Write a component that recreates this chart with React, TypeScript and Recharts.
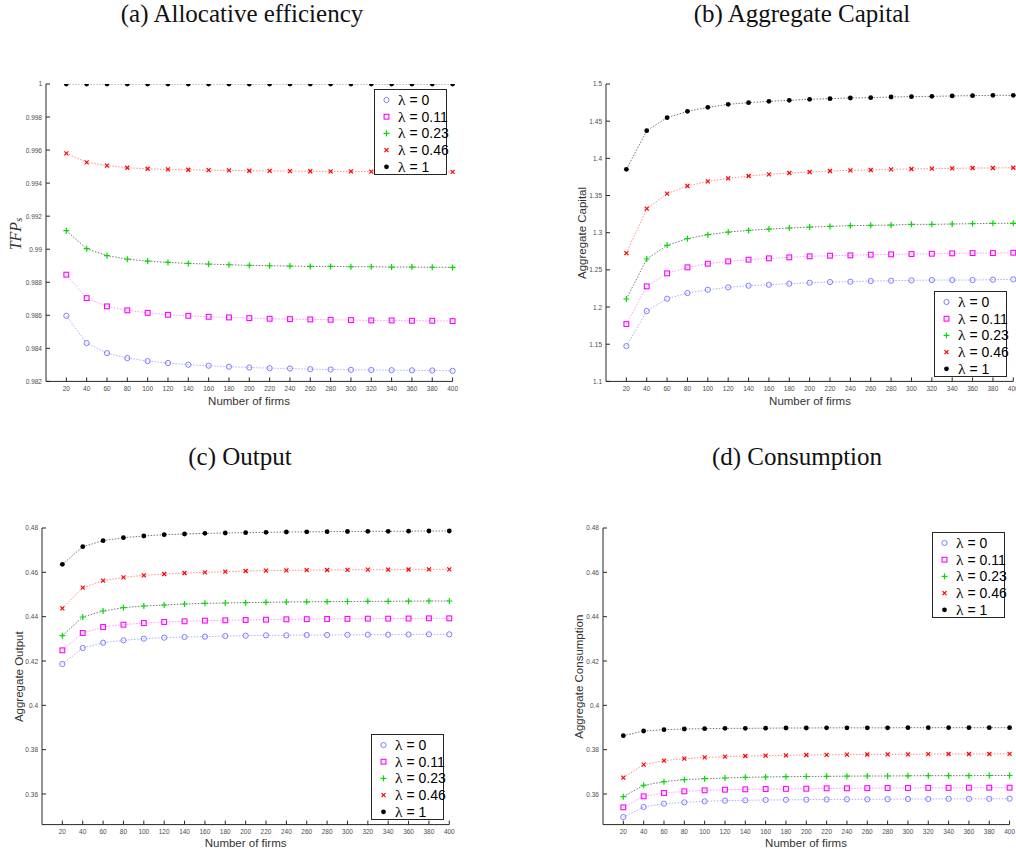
import React from "react";
import { LineChart, Line, XAxis, YAxis, Legend } from "recharts";

// number of firms on the x axis
const firms = [20, 40, 60, 80, 100, 120, 140, 160, 180, 200, 220, 240, 260, 280, 300, 320, 340, 360, 380, 400];
const lambdaLabels = ["0", "0.11", "0.23", "0.46", "1"];

// (a) allocative efficiency, TFP_s
const tfpL0 = [0.98597, 0.98432, 0.98371, 0.98341, 0.98323, 0.98311, 0.98301, 0.98295, 0.98289, 0.98284, 0.9828, 0.98278, 0.98274, 0.98272, 0.9827, 0.98269, 0.98268, 0.98267, 0.98266, 0.98264];
const tfpL011 = [0.98846, 0.98704, 0.98654, 0.9863, 0.98615, 0.98603, 0.98597, 0.98591, 0.98587, 0.98583, 0.98579, 0.98577, 0.98575, 0.98573, 0.98571, 0.98569, 0.98569, 0.98567, 0.98567, 0.98565];
const tfpL023 = [0.99112, 0.99003, 0.98961, 0.9894, 0.98928, 0.9892, 0.98914, 0.9891, 0.98906, 0.98902, 0.989, 0.98898, 0.98896, 0.98896, 0.98894, 0.98894, 0.98892, 0.98892, 0.98891, 0.9889];
const tfpL046 = [0.9958, 0.99526, 0.99506, 0.99493, 0.99487, 0.99483, 0.99481, 0.99479, 0.99477, 0.99475, 0.99474, 0.99473, 0.99472, 0.99471, 0.99471, 0.9947, 0.99469, 0.99469, 0.99469, 0.99468];
const tfpL1 = [1, 1, 1, 1, 1, 1, 1, 1, 1, 1, 1, 1, 1, 1, 1, 1, 1, 1, 1, 1];
const tfpTicks = [0.982, 0.984, 0.986, 0.988, 0.99, 0.992, 0.994, 0.996, 0.998, 1];

// (b) aggregate capital
const capL0 = [1.1475, 1.1946, 1.2112, 1.2188, 1.2233, 1.2265, 1.2287, 1.23, 1.2314, 1.2327, 1.2336, 1.2341, 1.235, 1.2354, 1.2359, 1.2363, 1.2363, 1.2363, 1.2368, 1.2372];
const capL011 = [1.1771, 1.2278, 1.2453, 1.2534, 1.2583, 1.2614, 1.2637, 1.2655, 1.2668, 1.2682, 1.2691, 1.2695, 1.2704, 1.2709, 1.2713, 1.2717, 1.2722, 1.2726, 1.2726, 1.2731];
const capL023 = [1.2108, 1.2646, 1.283, 1.2919, 1.2973, 1.3009, 1.3031, 1.3049, 1.3063, 1.3076, 1.3085, 1.3094, 1.3099, 1.3103, 1.3112, 1.3112, 1.3117, 1.3121, 1.3126, 1.3126];
const capL046 = [1.2726, 1.3323, 1.3525, 1.3628, 1.3691, 1.3731, 1.3762, 1.3785, 1.3803, 1.3816, 1.383, 1.3839, 1.3843, 1.3852, 1.3857, 1.3861, 1.3865, 1.387, 1.387, 1.3874];
const capL1 = [1.3852, 1.4372, 1.4547, 1.4632, 1.4686, 1.4726, 1.4749, 1.4767, 1.478, 1.4794, 1.4803, 1.4812, 1.4816, 1.4825, 1.483, 1.4834, 1.4839, 1.4843, 1.4848, 1.4848];
const capTicks = [1.1, 1.15, 1.2, 1.25, 1.3, 1.35, 1.4, 1.45, 1.5];

// (c) aggregate output
const outL0 = [0.41865, 0.42586, 0.42827, 0.42932, 0.43008, 0.43053, 0.43083, 0.43098, 0.43128, 0.43143, 0.43158, 0.43158, 0.43173, 0.43173, 0.4318, 0.43188, 0.43188, 0.43195, 0.43203, 0.43203];
const outL011 = [0.42481, 0.43263, 0.43534, 0.43639, 0.43714, 0.4376, 0.4379, 0.4382, 0.43835, 0.4385, 0.43865, 0.4388, 0.43887, 0.43895, 0.43902, 0.4391, 0.4391, 0.43917, 0.43925, 0.43925];
const outL023 = [0.43143, 0.43985, 0.44256, 0.44406, 0.44481, 0.44526, 0.44571, 0.44602, 0.44617, 0.44632, 0.44647, 0.44662, 0.4467, 0.44677, 0.44684, 0.44692, 0.44692, 0.447, 0.44707, 0.44707];
const outL046 = [0.44376, 0.45308, 0.45624, 0.45774, 0.45865, 0.45925, 0.4597, 0.46, 0.4603, 0.4606, 0.46075, 0.4609, 0.46098, 0.46105, 0.46113, 0.4612, 0.4612, 0.46128, 0.46135, 0.46135];
const outL1 = [0.46361, 0.47158, 0.47429, 0.47564, 0.47639, 0.47699, 0.47729, 0.47759, 0.47774, 0.47789, 0.47805, 0.4782, 0.47827, 0.47835, 0.47842, 0.4785, 0.4785, 0.47857, 0.47865, 0.47865];

// (d) aggregate consumption
const conL0 = [0.34962, 0.35414, 0.35564, 0.35624, 0.3567, 0.357, 0.35715, 0.3573, 0.35737, 0.35745, 0.35752, 0.3576, 0.3576, 0.35767, 0.35775, 0.35775, 0.35782, 0.35782, 0.35782, 0.3579];
const conL011 = [0.35398, 0.35895, 0.36045, 0.3612, 0.36165, 0.36195, 0.3621, 0.36225, 0.36233, 0.3624, 0.36256, 0.36256, 0.36263, 0.36271, 0.36271, 0.36278, 0.36278, 0.36286, 0.36286, 0.36286];
const conL023 = [0.3588, 0.36391, 0.36556, 0.36647, 0.36692, 0.36722, 0.36752, 0.36767, 0.36782, 0.3679, 0.36797, 0.36805, 0.36812, 0.36812, 0.3682, 0.36827, 0.36827, 0.36827, 0.36835, 0.36835];
const conL046 = [0.36737, 0.37323, 0.37504, 0.37594, 0.37654, 0.37684, 0.37714, 0.37729, 0.37744, 0.37759, 0.37767, 0.37774, 0.37782, 0.37789, 0.37789, 0.37797, 0.37805, 0.37805, 0.37805, 0.37812];
const conL1 = [0.38632, 0.38842, 0.38902, 0.38932, 0.38947, 0.38962, 0.38962, 0.3897, 0.38977, 0.38977, 0.38985, 0.38985, 0.38985, 0.38985, 0.38992, 0.38992, 0.38992, 0.38992, 0.38992, 0.38992];
const smallTicks = [0.36, 0.38, 0.4, 0.42, 0.44, 0.46, 0.48];

const styles = [
  { marker: "circle", color: "#6f6fff", line: "#9a9aff" },
  { marker: "square", color: "#ff00ff", line: "#ff7cff" },
  { marker: "plus", color: "#00dd00", line: "#555555" },
  { marker: "cross", color: "#ff0000", line: "#ff7070" },
  { marker: "dot", color: "#000000", line: "#555555" },
];

const AX = "#262626";
const SANS = "'Liberation Sans', Arial, sans-serif";
const SERIF = "'Liberation Serif', 'Times New Roman', serif";

function Marker({ cx, cy, kind, color }: any) {
  if (cx == null || cy == null) return null;
  if (kind === "circle") return <circle cx={cx} cy={cy} r={2.6} fill="none" stroke={color} strokeWidth={0.9} />;
  if (kind === "square") return <rect x={cx - 2.4} y={cy - 2.4} width={4.8} height={4.8} fill="none" stroke={color} strokeWidth={1.1} />;
  if (kind === "plus")
    return (
      <g stroke={color} strokeWidth={1.2}>
        <line x1={cx - 3} x2={cx + 3} y1={cy} y2={cy} />
        <line x1={cx} x2={cx} y1={cy - 3} y2={cy + 3} />
      </g>
    );
  if (kind === "cross")
    return (
      <g stroke={color} strokeWidth={1.2}>
        <line x1={cx - 2} x2={cx + 2} y1={cy - 2} y2={cy + 2} />
        <line x1={cx - 2} x2={cx + 2} y1={cy + 2} y2={cy - 2} />
      </g>
    );
  return <circle cx={cx} cy={cy} r={2.4} fill={color} />;
}

function YTick({ x, y, payload, fmt }: any) {
  return (
    <g>
      <line x1={x + 4} x2={x + 8} y1={y} y2={y} stroke={AX} />
      <text x={x} y={y} textAnchor="end" dominantBaseline="central" fontSize={6.5} fill="#4d4d4d" fontFamily={SANS}>
        {fmt(payload.value)}
      </text>
    </g>
  );
}

function XTick({ x, y, payload }: any) {
  return (
    <g>
      <line x1={x} x2={x} y1={y - 4} y2={y - 8} stroke={AX} />
      <text x={x} y={y + 3.4} textAnchor="middle" dominantBaseline="central" fontSize={6.5} fill="#4d4d4d" fontFamily={SANS}>
        {payload.value}
      </text>
    </g>
  );
}

function LegendBox() {
  return (
    <div style={{ width: 73, height: 86, border: `1px solid ${AX}`, background: "#fff", boxSizing: "border-box", position: "relative" }}>
      <svg width={71} height={84} style={{ position: "absolute", left: 0, top: 0, overflow: "visible" }}>
        {lambdaLabels.map((lab, i) => {
          const cy = 10 + i * 16.7;
          return (
            <g key={lab}>
              <Marker cx={11.5} cy={cy} kind={styles[i].marker} color={styles[i].color} />
              <text x={23} y={cy + 5} fontSize={14} fill="#000">
                <tspan fontFamily={SERIF} fontSize={15.5}>λ</tspan>
                <tspan fontFamily={SANS}> = {lab}</tspan>
              </text>
            </g>
          );
        })}
      </svg>
    </div>
  );
}

const fmt3 = (v: number) => String(Number(v.toFixed(3)));
const fmt2 = (v: number) => String(Number(v.toFixed(2)));

const panels = [
  { id: "a", series: [tfpL0, tfpL011, tfpL023, tfpL046, tfpL1], domain: [0.982, 1], ticks: tfpTicks, fmt: fmt3, plot: { x0: 45.7, x1: 452.3, y0: 84.3, y1: 381.7 }, legend: { x: 374, y: 89.3 } },
  { id: "b", series: [capL0, capL011, capL023, capL046, capL1], domain: [1.1, 1.5], ticks: capTicks, fmt: fmt2, plot: { x0: 606, x1: 1013.3, y0: 84.3, y1: 381.7 }, legend: { x: 934.3, y: 291.5 } },
  { id: "c", series: [outL0, outL011, outL023, outL046, outL1], domain: [0.3462, 0.48], ticks: smallTicks, fmt: fmt2, plot: { x0: 42, x1: 449.3, y0: 527.7, y1: 824.3 }, legend: { x: 370.7, y: 734.3 } },
  { id: "d", series: [conL0, conL011, conL023, conL046, conL1], domain: [0.3462, 0.48], ticks: smallTicks, fmt: fmt2, plot: { x0: 602.7, x1: 1009.3, y0: 527.7, y1: 824.3 }, legend: { x: 931.7, y: 532.3 } },
];

function Panel({ p }: any) {
  const yw = 40, mt = 10, mr = 12, xh = 20, mb = 2;
  const L = p.plot.x0 - yw;
  const T = p.plot.y0 - mt;
  const W = yw + (p.plot.x1 - p.plot.x0) + mr;
  const H = mt + (p.plot.y1 - p.plot.y0) + xh + mb;
  const data = firms.map((n, i) => {
    const row: any = { n };
    p.series.forEach((s: number[], k: number) => (row["s" + k] = s[i]));
    return row;
  });
  return (
    <div style={{ position: "absolute", left: L, top: T }}>
      <LineChart width={W} height={H} data={data} margin={{ top: mt, right: mr, bottom: mb, left: 0 }}>
        <XAxis
          dataKey="n"
          type="number"
          domain={[0, 400]}
          ticks={firms}
          interval={0}
          height={xh}
          tickSize={0}
          tickMargin={4}
          stroke={AX}
          tick={(t: any) => <XTick {...t} />}
        />
        <YAxis
          type="number"
          domain={p.domain}
          ticks={p.ticks}
          interval={0}
          width={yw}
          tickSize={0}
          tickMargin={4}
          stroke={AX}
          allowDataOverflow
          tick={(t: any) => <YTick {...t} fmt={p.fmt} />}
        />
        <Legend
          layout="vertical"
          align="center"
          verticalAlign="middle"
          wrapperStyle={{ left: p.legend.x - L, top: p.legend.y - T, width: 73, height: 86 }}
          content={() => <LegendBox />}
        />
        {styles.map((s, k) => (
          <Line
            key={k}
            type="linear"
            dataKey={"s" + k}
            name={"λ = " + lambdaLabels[k]}
            stroke={s.line}
            strokeWidth={0.8}
            strokeDasharray="1.5 1.5"
            isAnimationActive={false}
            activeDot={false}
            dot={(d: any) => <Marker key={d.index} cx={d.cx} cy={d.cy} kind={s.marker} color={s.color} />}
          />
        ))}
      </LineChart>
    </div>
  );
}

export default function App() {
  return (
    <div style={{ position: "absolute", left: 0, top: 0, width: 1016, height: 855, overflow: "hidden", background: "#fff" }}>
      {panels.map((p) => (
        <Panel key={p.id} p={p} />
      ))}
      <svg width={1016} height={855} style={{ position: "absolute", left: 0, top: 0, pointerEvents: "none" }}>
        <g fontFamily={SERIF} fontSize={25} fill="#111" textAnchor="middle">
          <text x={242} y={22}>(a) Allocative efficiency</text>
          <text x={802} y={22}>(b) Aggregate Capital</text>
          <text x={240} y={465}>(c) Output</text>
          <text x={797} y={465}>(d) Consumption</text>
        </g>
        <g fontFamily={SANS} fontSize={11.5} fill="#333" textAnchor="middle" dominantBaseline="central">
          <text x={249} y={400.5}>Number of firms</text>
          <text x={810} y={400.5}>Number of firms</text>
          <text x={245.6} y={843.3}>Number of firms</text>
          <text x={806} y={843.3}>Number of firms</text>
          <text transform="translate(581.7,233) rotate(-90)">Aggregate Capital</text>
          <text transform="translate(19,676.7) rotate(-90)">Aggregate Output</text>
          <text transform="translate(579,676.7) rotate(-90)">Aggregate Consumption</text>
        </g>
        <text transform="translate(15.3,234) rotate(-90)" textAnchor="middle" dominantBaseline="central" fontFamily={SERIF} fontStyle="italic" fontSize={16} fill="#333">
          TFP<tspan fontSize={11} dy={3}>s</tspan>
        </text>
      </svg>
    </div>
  );
}
